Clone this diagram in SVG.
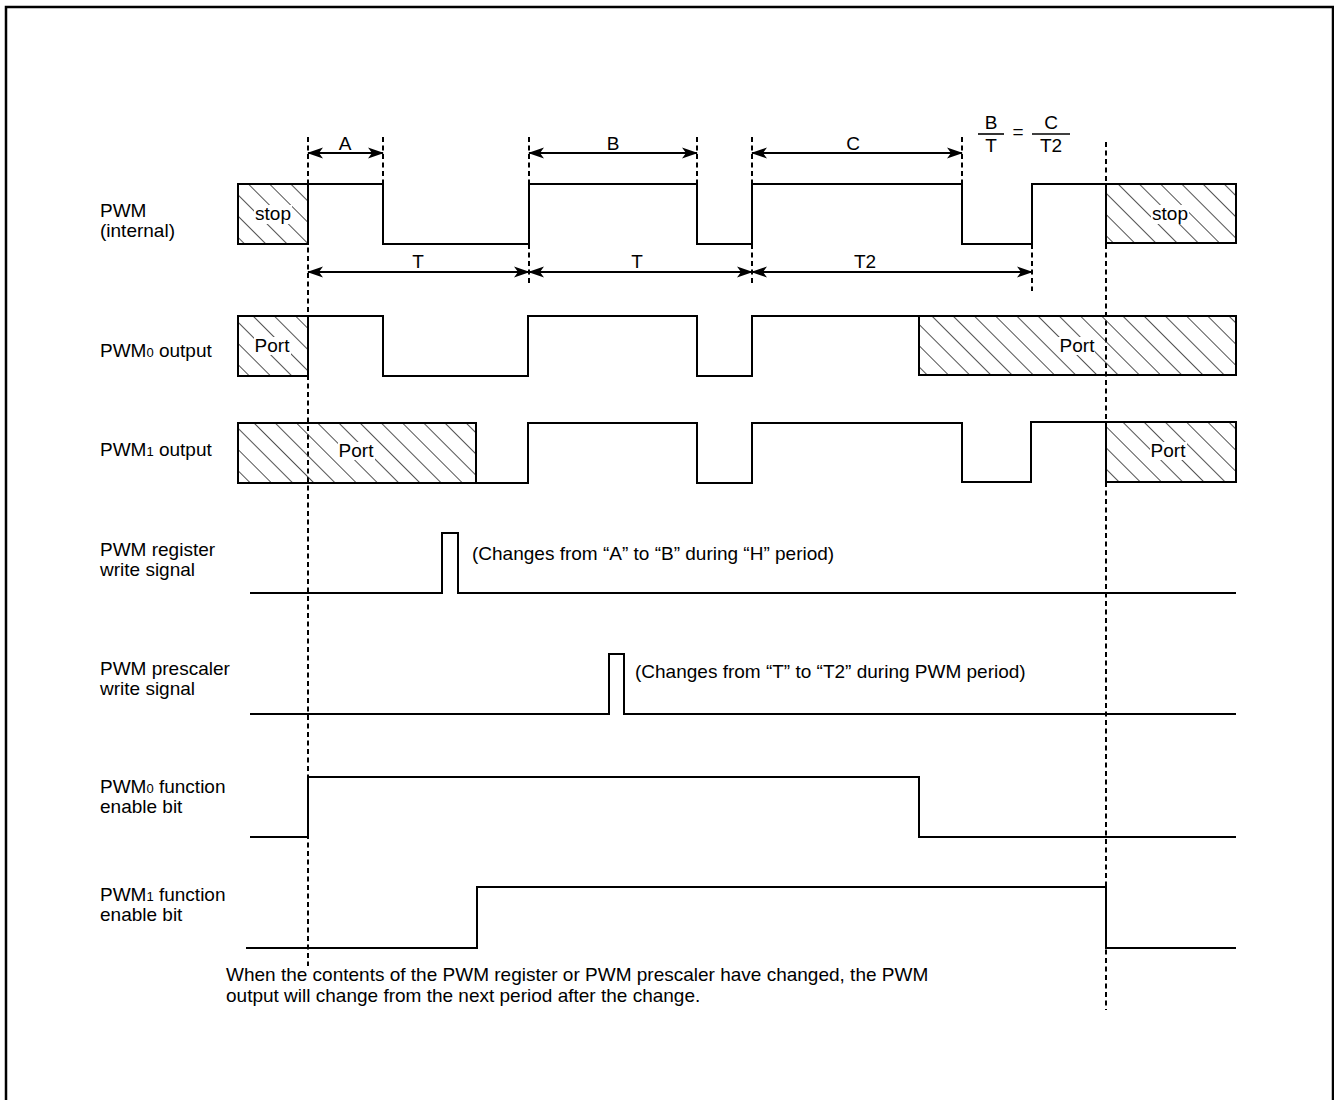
<svg xmlns="http://www.w3.org/2000/svg" width="1334" height="1100" viewBox="0 0 1334 1100">
<style>
text{font-family:"Liberation Sans",Arial,sans-serif;font-size:19px;fill:#000}
.mid{text-anchor:middle}
.wave{fill:none;stroke:#000;stroke-width:2;stroke-linejoin:miter}
.dash{fill:none;stroke:#000;stroke-width:2;stroke-dasharray:5 3.5}
.arr{fill:none;stroke:#000;stroke-width:2;marker-start:url(#ah);marker-end:url(#ah)}
.box{fill:url(#hatch);stroke:#000;stroke-width:2}
.bg{fill:#fff}
.sub{font-size:13px}
</style>
<defs>
<pattern id="hatch" patternUnits="userSpaceOnUse" width="15" height="15" patternTransform="rotate(-45)">
<line x1="0" y1="0" x2="0" y2="15" stroke="#333" stroke-width="1.7"/>
</pattern>
<marker id="ah" viewBox="0 -6 16 12" refX="15" refY="0" markerWidth="16" markerHeight="12" markerUnits="userSpaceOnUse" orient="auto-start-reverse">
<path d="M0,-5.5 L16,0 L0,5.5 L4,0 Z" fill="#000"/>
</marker>
</defs>
<rect x="6" y="7" width="1327" height="1110" fill="#fff" stroke="#000" stroke-width="2.5"/>

<g id="labels">
<text x="100" y="217">PWM</text>
<text x="100" y="237">(internal)</text>
<text x="100" y="357">PWM<tspan class="sub">0</tspan> output</text>
<text x="100" y="456">PWM<tspan class="sub">1</tspan> output</text>
<text x="100" y="556">PWM register</text>
<text x="100" y="576">write signal</text>
<text x="100" y="675">PWM prescaler</text>
<text x="100" y="695">write signal</text>
<text x="100" y="793">PWM<tspan class="sub">0</tspan> function</text>
<text x="100" y="813">enable bit</text>
<text x="100" y="901">PWM<tspan class="sub">1</tspan> function</text>
<text x="100" y="921">enable bit</text>
</g>

<g id="guides">
<line class="dash" x1="308" y1="137" x2="308" y2="966"/>
<line class="dash" x1="1106" y1="142" x2="1106" y2="1010"/>
<line class="dash" x1="383" y1="137" x2="383" y2="184"/>
<line class="dash" x1="529" y1="137" x2="529" y2="184"/>
<line class="dash" x1="529" y1="244" x2="529" y2="286"/>
<line class="dash" x1="697" y1="137" x2="697" y2="184"/>
<line class="dash" x1="752" y1="137" x2="752" y2="184"/>
<line class="dash" x1="752" y1="244" x2="752" y2="286"/>
<line class="dash" x1="962" y1="137" x2="962" y2="184"/>
<line class="dash" x1="1032" y1="244" x2="1032" y2="291"/>
</g>

<g id="dimensions">
<line class="arr" x1="308" y1="153" x2="383" y2="153"/>
<text class="mid" x="345" y="150">A</text>
<line class="arr" x1="529" y1="153" x2="697" y2="153"/>
<text class="mid" x="613" y="150">B</text>
<line class="arr" x1="752" y1="153" x2="962" y2="153"/>
<text class="mid" x="853" y="150">C</text>
<line class="arr" x1="308" y1="272" x2="529" y2="272"/>
<text class="mid" x="418" y="268">T</text>
<line class="arr" x1="529" y1="272" x2="752" y2="272"/>
<text class="mid" x="637" y="268">T</text>
<line class="arr" x1="752" y1="272" x2="1032" y2="272"/>
<text class="mid" x="865" y="268">T2</text>
</g>

<g id="ratio">
<text class="mid" x="991" y="129">B</text>
<line x1="978" y1="134" x2="1004" y2="134" stroke="#000" stroke-width="1.6"/>
<text class="mid" x="991" y="152">T</text>
<text class="mid" x="1018" y="138">=</text>
<text class="mid" x="1051" y="129">C</text>
<line x1="1032" y1="134" x2="1070" y2="134" stroke="#000" stroke-width="1.6"/>
<text class="mid" x="1051" y="152">T2</text>
</g>

<g id="pwm-internal">
<rect class="box" x="238" y="184" width="70" height="60"/>
<rect class="bg" x="254" y="205" width="38" height="19"/>
<text class="mid" x="273" y="220">stop</text>
<polyline class="wave" points="308,184 383,184 383,244 529,244 529,184 697,184 697,244 752,244 752,184 962,184 962,244 1032,244 1032,184 1106,184"/>
<rect class="box" x="1106" y="184" width="130" height="59"/>
<rect class="bg" x="1151" y="205" width="38" height="19"/>
<text class="mid" x="1170" y="220">stop</text>
</g>

<g id="pwm0-output">
<rect class="box" x="238" y="316" width="70" height="60"/>
<rect class="bg" x="254" y="337" width="37" height="18"/>
<text class="mid" x="272" y="352">Port</text>
<polyline class="wave" points="308,316 383,316 383,376 528,376 528,316 697,316 697,376 752,376 752,316 919,316"/>
<rect class="box" x="919" y="316" width="317" height="59"/>
<rect class="bg" x="1058" y="337" width="37" height="18"/>
<text class="mid" x="1077" y="352">Port</text>
</g>

<g id="pwm1-output">
<rect class="box" x="238" y="423" width="238" height="60"/>
<rect class="bg" x="338" y="442" width="37" height="18"/>
<text class="mid" x="356" y="457">Port</text>
<polyline class="wave" points="476,483 528,483 528,423 697,423 697,483 752,483 752,423 962,423 962,482 1031,482 1031,422 1106,422"/>
<rect class="box" x="1106" y="422" width="130" height="60"/>
<rect class="bg" x="1150" y="442" width="37" height="18"/>
<text class="mid" x="1168" y="457">Port</text>
</g>

<g id="register-write">
<polyline class="wave" points="250,593 442,593 442,533 458,533 458,593 1236,593"/>
<text x="472" y="560">(Changes from “A” to “B” during “H” period)</text>
</g>

<g id="prescaler-write">
<polyline class="wave" points="250,714 609,714 609,654 624,654 624,714 1236,714"/>
<text x="635" y="678">(Changes from “T” to “T2” during PWM period)</text>
</g>

<g id="pwm0-enable">
<polyline class="wave" points="250,837 308,837 308,777 919,777 919,837 1236,837"/>
</g>

<g id="pwm1-enable">
<polyline class="wave" points="246,948 477,948 477,887 1106,887 1106,948 1236,948"/>
</g>

<g id="note">
<text x="226" y="981">When the contents of the PWM register or PWM prescaler have changed, the PWM</text>
<text x="226" y="1002">output will change from the next period after the change.</text>
</g>
</svg>
